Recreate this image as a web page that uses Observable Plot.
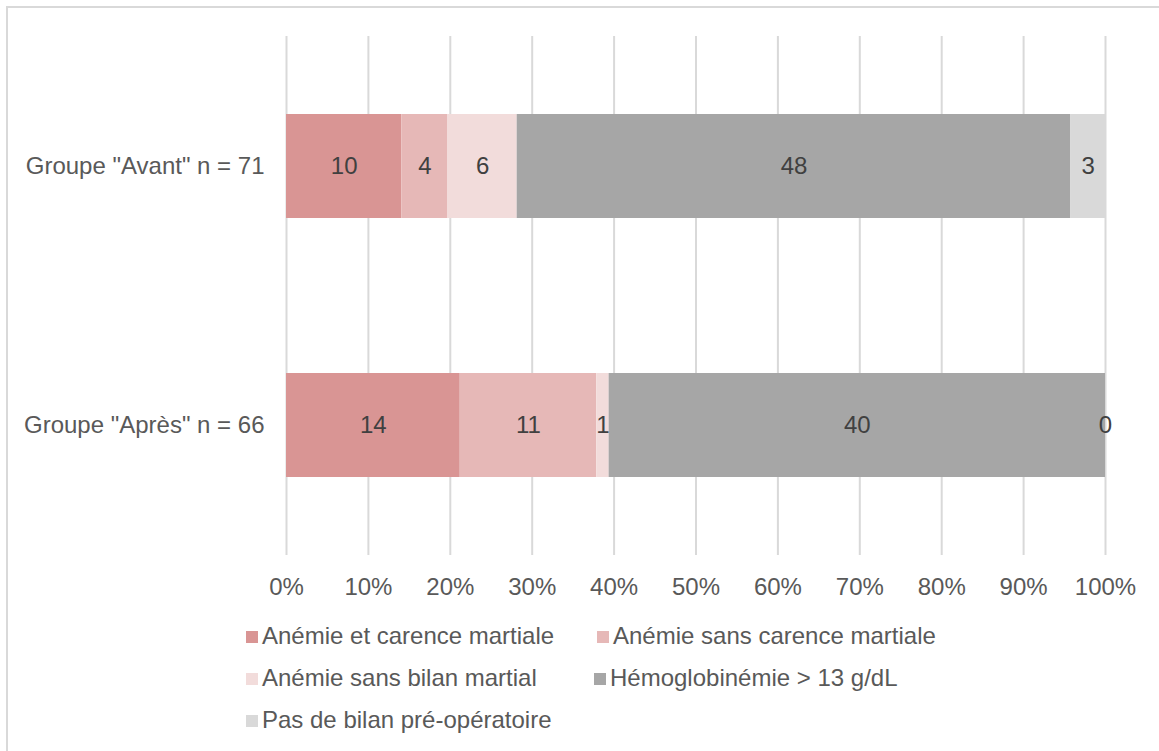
<!DOCTYPE html>
<html>
<head>
<meta charset="utf-8">
<script src="https://cdn.jsdelivr.net/npm/d3@7"></script>
<script src="https://cdn.jsdelivr.net/npm/@observablehq/plot@0.6"></script>
<style>
  html, body { margin: 0; padding: 0; background: #fff; }
  body { width: 1159px; height: 751px; position: relative; overflow: hidden; font-family: "Liberation Sans", Arial, sans-serif; }
  #frame { position: absolute; left: 6px; top: 6px; width: 1200px; height: 800px; border: 2px solid #d9d9d9; box-sizing: border-box; }
  #chart { position: absolute; left: 0; top: 0; }
  .leg { position: absolute; font-size: 24px; color: #595959; white-space: nowrap; line-height: 28px; }
  .leg span.sw { display: inline-block; width: 12px; height: 12px; margin-right: 4px; vertical-align: 1px; }
</style>
</head>
<body>
<div id="frame"></div>
<div id="chart"></div>
<div id="legend"></div>
<script>
const groups = ['Groupe "Avant" n = 71', 'Groupe "Après" n = 66'];
const categories = [
  "Anémie et carence martiale",
  "Anémie sans carence martiale",
  "Anémie sans bilan martial",
  "Hémoglobinémie > 13 g/dL",
  "Pas de bilan pré-opératoire"
];
const colors = ["#d99594", "#e6b8b7", "#f2dcdb", "#a6a6a6", "#d9d9d9"];
const avantValues = [10, 4, 6, 48, 3];
const apresValues = [14, 11, 1, 40, 0];
const xTicks = [0, 0.1, 0.2, 0.3, 0.4, 0.5, 0.6, 0.7, 0.8, 0.9, 1];

const data = [];
categories.forEach((c, i) => data.push({group: groups[0], cat: c, value: avantValues[i]}));
categories.forEach((c, i) => data.push({group: groups[1], cat: c, value: apresValues[i]}));

const plot = Plot.plot({
  width: 1159,
  height: 610,
  marginLeft: 286,
  marginRight: 54,
  marginTop: 36,
  marginBottom: 55,
  style: {fontFamily: '"Liberation Sans", Arial, sans-serif', fontSize: "24px", color: "#595959", background: "transparent"},
  x: {domain: [0, 1], ticks: xTicks, tickFormat: d => Math.round(d * 100) + "%", tickSize: 0, tickPadding: 22, label: null, grid: false},
  y: {domain: groups, paddingInner: 0.6, paddingOuter: 0.3, label: null, tickSize: 0, tickPadding: 22},
  color: {domain: categories, range: colors},
  marks: [
    Plot.ruleX(xTicks, {stroke: "#d9d9d9", strokeWidth: 2}),
    Plot.barX(data, Plot.stackX({x: "value", y: "group", z: "cat", fill: "cat", order: categories, offset: "normalize"})),
    Plot.text(data, Plot.stackX({x: "value", y: "group", z: "cat", text: d => String(d.value), order: categories, offset: "normalize", fill: "#404040", fontSize: 24}))
  ]
});
document.getElementById("chart").appendChild(plot);

const legendPos = [
  {left: 246, top: 622},
  {left: 597, top: 622},
  {left: 246, top: 664},
  {left: 594, top: 664},
  {left: 246, top: 706}
];
const leg = document.getElementById("legend");
categories.forEach((c, i) => {
  const d = document.createElement("div");
  d.className = "leg";
  d.style.left = legendPos[i].left + "px";
  d.style.top = legendPos[i].top + "px";
  d.innerHTML = `<span class="sw" style="background:${colors[i]}"></span>`;
  d.appendChild(document.createTextNode(c));
  leg.appendChild(d);
});
</script>
</body>
</html>
